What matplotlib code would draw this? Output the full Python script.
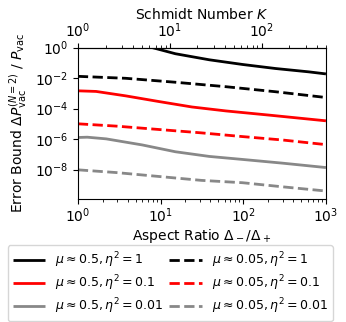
import numpy as np
import matplotlib
matplotlib.use("Agg")
import matplotlib.pyplot as plt

plt.rcParams['font.family'] = ['DejaVu Sans']
plt.rcParams['mathtext.fontset'] = 'dejavusans'
plt.rcParams['font.size'] = 10

# aspect ratio samples and error bound values
r_black_solid = [5.0, 8.0, 15.1, 38.9, 98, 245, 617, 1000]
black_solid = [2.2, 1.0, 0.40, 0.16, 0.079, 0.043, 0.026, 0.019]

r_red_solid = [1, 1.66, 3.8, 9.5, 24, 62, 204, 1000]
red_solid = [1.48e-3, 1.35e-3, 6.9e-4, 2.95e-4, 1.29e-4, 7.1e-5, 3.8e-5, 1.6e-5]

r_gray_solid = [1, 1.3, 2.2, 6.0, 15.1, 38.9, 98, 295, 1000]
gray_solid = [1.29e-6, 1.35e-6, 1.05e-6, 4.2e-7, 1.5e-7, 7.4e-8, 4.7e-8, 2.7e-8, 1.38e-8]

r_black_dash = [1, 3.8, 15.1, 62, 245, 1000]
black_dash = [1.32e-2, 9.8e-3, 5.4e-3, 2.75e-3, 1.29e-3, 5.4e-4]

r_dash = [1, 2.9, 31, 98, 295, 1000]
red_dash = [1.02e-5, 7.2e-6, 2.6e-6, 1.48e-6, 8.9e-7, 4.4e-7]
gray_dash = [9.8e-9, 6.5e-9, 2.0e-9, 1.4e-9, 7.6e-10, 4.0e-10]

k_ticks = [1, 10, 100]

labels = [r'$\mu \approx 0.5, \eta^2 = 1$', r'$\mu \approx 0.05, \eta^2 = 1$',
          r'$\mu \approx 0.5, \eta^2 = 0.1$', r'$\mu \approx 0.05, \eta^2 = 0.1$',
          r'$\mu \approx 0.5, \eta^2 = 0.01$', r'$\mu \approx 0.05, \eta^2 = 0.01$']

fig = plt.figure(figsize=(3.46, 3.22), dpi=100)
ax = fig.add_axes([0.225, 0.382, 0.717, 0.47])

gray = '#888888'
kw = dict(lw=2, solid_joinstyle='round', solid_capstyle='butt')
l1, = ax.plot(r_black_solid, black_solid, color='black', label=labels[0], **kw)
l2, = ax.plot(r_black_dash, black_dash, color='black', ls='--', label=labels[1], **kw)
l3, = ax.plot(r_red_solid, red_solid, color='red', label=labels[2], **kw)
l4, = ax.plot(r_dash, red_dash, color='red', ls='--', label=labels[3], **kw)
l5, = ax.plot(r_gray_solid, gray_solid, color=gray, label=labels[4], **kw)
l6, = ax.plot(r_dash, gray_dash, color=gray, ls='--', label=labels[5], **kw)

ax.set_xscale('log')
ax.set_yscale('log')
ax.set_xlim(1, 1000)
ax.set_ylim(1.2e-10, 1)
ax.set_yticks([1, 1e-2, 1e-4, 1e-6, 1e-8])
ax.yaxis.set_minor_locator(matplotlib.ticker.NullLocator())
ax.tick_params(axis='x', pad=2)
ax.set_xlabel(r'Aspect Ratio $\Delta_-/\Delta_+$', labelpad=1)
ax.set_ylabel(r'Error Bound $\Delta P_{\rm vac}^{(N=2)}\ /\ P_{\rm vac}$')


def to_k(r):
    r = np.clip(r, 1e-12, None)
    return (r + 1 / r) / 2


def to_r(k):
    k = np.asarray(k, dtype=float)
    return k + np.sqrt(np.clip(k**2 - 1, 0, None))


sec = ax.secondary_xaxis('top', functions=(to_k, to_r))
sec.set_xscale('log')
sec.set_xticks(k_ticks)
sec.xaxis.set_minor_locator(matplotlib.ticker.FixedLocator(
    [2, 3, 4, 5, 6, 7, 8, 9, 20, 30, 40, 50, 60, 70, 80, 90, 200, 300, 400, 500]))
sec.xaxis.set_minor_formatter(matplotlib.ticker.NullFormatter())
sec.tick_params(axis='x', pad=2)
sec.set_xlabel(r'Schmidt Number $K$', labelpad=2)

# column-first fill: solid lines in the left column
handles = [l1, l3, l5, l2, l4, l6]
fig.legend(handles, [h.get_label() for h in handles], loc='upper center',
           bbox_to_anchor=(0.492, 0.258), ncol=2, fontsize=9,
           frameon=True, handlelength=2.6, handletextpad=0.8,
           columnspacing=0.45, borderpad=0.4, labelspacing=0.3)

fig.savefig('out.png', dpi=100)
